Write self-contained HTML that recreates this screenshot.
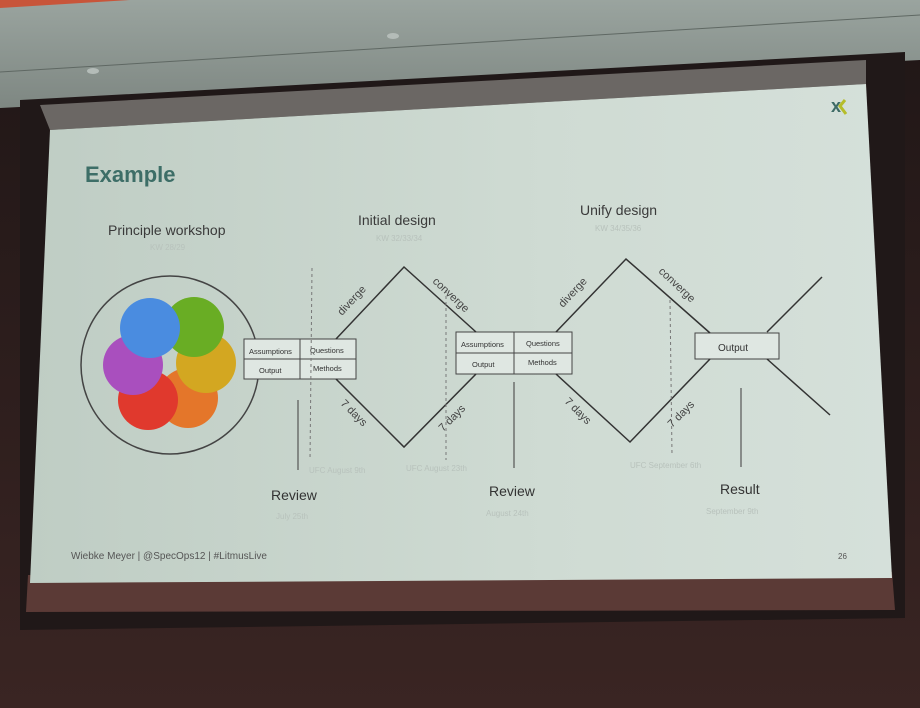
<!DOCTYPE html>
<html><head><meta charset="utf-8"><style>
html,body{margin:0;padding:0;width:920px;height:708px;overflow:hidden;background:#2a1d1c}
svg{display:block}
text{font-family:"Liberation Sans",sans-serif}
</style></head><body>
<svg width="920" height="708" viewBox="0 0 920 708" xmlns="http://www.w3.org/2000/svg">
<defs>
<linearGradient id="ceil" x1="0" y1="0" x2="0" y2="1"><stop offset="0" stop-color="#9aa49f"/><stop offset="1" stop-color="#7e8782"/></linearGradient>
<linearGradient id="slide" x1="0" y1="0" x2="1" y2="0"><stop offset="0" stop-color="#bfcdc4"/><stop offset="0.6" stop-color="#cfdbd3"/><stop offset="1" stop-color="#d5e0da"/></linearGradient>
<linearGradient id="cur" x1="0" y1="0" x2="0" y2="1"><stop offset="0" stop-color="#1f1616"/><stop offset="1" stop-color="#3a2523"/></linearGradient>
</defs>
<rect x="0" y="0" width="920" height="708" fill="url(#cur)"/>
<polygon points="0,0 920,0 920,60 0,108" fill="url(#ceil)"/>
<polygon points="0,0 130,0 0,8" fill="#c8553a"/>
<line x1="0" y1="72" x2="920" y2="15" stroke="#5f6863" stroke-width="1"/>
<ellipse cx="93" cy="71" rx="6" ry="3" fill="#b4bcb8"/>
<ellipse cx="393" cy="36" rx="6" ry="3" fill="#b4bcb8"/>
<!-- screen frame -->
<polygon points="20,100 905,52 905,618 20,630" fill="#201818"/>
<polygon points="40,105 866,60 866,84 50,130" fill="#6b6764"/>
<polygon points="28,575 892,572 895,610 26,612" fill="#5b3a36"/>
<polygon points="50,130 866,84 892,578 30,583" fill="url(#slide)"/>
<!-- logo -->
<text x="831" y="112" font-size="18" font-weight="bold" fill="#3e6b66">x</text>
<path d="M845 100 L840 106 L846 114" stroke="#b5bd2a" stroke-width="3" fill="none"/>
<text x="85" y="182" font-size="22" font-weight="bold" fill="#3d6e67">Example</text>
<text x="108" y="235" font-size="14" fill="#3a3a3a">Principle workshop</text>
<text x="150" y="250" font-size="8" fill="#b8c2bc">KW 28/29</text>
<text x="358" y="225" font-size="14" fill="#3a3a3a">Initial design</text>
<text x="376" y="241" font-size="8" fill="#b8c2bc">KW 32/33/34</text>
<text x="580" y="215" font-size="14" fill="#3a3a3a">Unify design</text>
<text x="595" y="231" font-size="8" fill="#b8c2bc">KW 34/35/36</text>
<!-- circle group -->
<circle cx="170" cy="365" r="89" fill="none" stroke="#444" stroke-width="1.5"/>
<circle cx="188" cy="398" r="30" fill="#e4762a"/>
<circle cx="148" cy="400" r="30" fill="#e0392d"/>
<circle cx="206" cy="363" r="30" fill="#d3a721"/>
<circle cx="133" cy="365" r="30" fill="#a94fbe"/>
<circle cx="194" cy="327" r="30" fill="#69ad24"/>
<circle cx="150" cy="328" r="30" fill="#4a8ce0"/>
<!-- table boxes -->
<g stroke="#444" stroke-width="1" fill="#dfe7e2">
<rect x="244" y="339" width="112" height="40"/>
<line x1="244" y1="359" x2="356" y2="359"/><line x1="300" y1="339" x2="300" y2="379"/>
<rect x="456" y="332" width="116" height="42"/>
<line x1="456" y1="353" x2="572" y2="353"/><line x1="514" y1="332" x2="514" y2="374"/>
<rect x="695" y="333" width="84" height="26"/>
</g>
<g font-size="7.5" fill="#333">
<text x="249" y="354">Assumptions</text><text x="310" y="353">Questions</text>
<text x="259" y="373">Output</text><text x="313" y="371">Methods</text>
<text x="461" y="347">Assumptions</text><text x="526" y="346">Questions</text>
<text x="472" y="367">Output</text><text x="528" y="365">Methods</text>
</g>
<text x="718" y="351" font-size="10" fill="#333">Output</text>
<!-- diamonds -->
<g stroke="#333" stroke-width="1.5" fill="none">
<polyline points="336,339 404,267 476,332"/>
<polyline points="336,379 404,447 476,374"/>
<polyline points="556,332 626,259 710,333"/>
<polyline points="556,374 630,442 710,359"/>
<line x1="767" y1="332" x2="822" y2="277"/>
<line x1="767" y1="359" x2="830" y2="415"/>
</g>
<g stroke="#777" stroke-width="1" fill="none" stroke-dasharray="3,3">
<line x1="312" y1="268" x2="310" y2="460"/>
<line x1="446" y1="290" x2="446" y2="460"/>
<line x1="670" y1="300" x2="672" y2="455"/>
</g>
<g stroke="#555" stroke-width="1.2">
<line x1="298" y1="400" x2="298" y2="470"/>
<line x1="514" y1="382" x2="514" y2="468"/>
<line x1="741" y1="388" x2="741" y2="467"/>
</g>
<g font-size="11" fill="#444">
<text transform="translate(342,316) rotate(-47)">diverge</text>
<text transform="translate(432,282) rotate(43)">converge</text>
<text transform="translate(563,308) rotate(-47)">diverge</text>
<text transform="translate(658,272) rotate(43)">converge</text>
<text transform="translate(340,404) rotate(45)">7 days</text>
<text transform="translate(443,432) rotate(-45)">7 days</text>
<text transform="translate(564,402) rotate(45)">7 days</text>
<text transform="translate(672,428) rotate(-45)">7 days</text>
</g>
<g font-size="8" fill="#b8c2bc">
<text x="309" y="473">UFC August 9th</text>
<text x="406" y="471">UFC August 23th</text>
<text x="630" y="468">UFC September 6th</text>
<text x="276" y="519">July 25th</text>
<text x="486" y="516">August 24th</text>
<text x="706" y="514">September 9th</text>
</g>
<g font-size="14" fill="#333">
<text x="271" y="500">Review</text>
<text x="489" y="496">Review</text>
<text x="720" y="494">Result</text>
</g>
<text x="71" y="559" font-size="10" fill="#555">Wiebke Meyer | @SpecOps12 | #LitmusLive</text>
<text x="838" y="559" font-size="8" fill="#555">26</text>
</svg>
</body></html>
